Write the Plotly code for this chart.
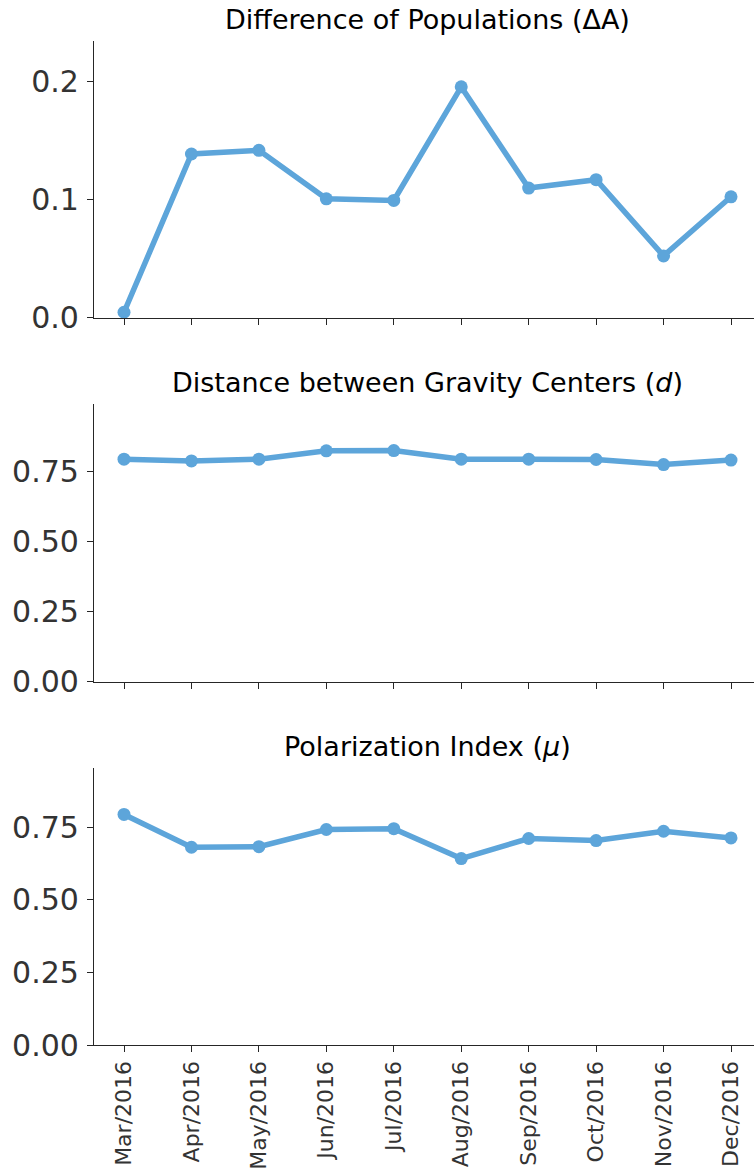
import plotly.graph_objects as go

months = ["Mar/2016", "Apr/2016", "May/2016", "Jun/2016", "Jul/2016",
          "Aug/2016", "Sep/2016", "Oct/2016", "Nov/2016", "Dec/2016"]
delta_a = [0.0046, 0.1388, 0.1419, 0.1008, 0.0994, 0.1957, 0.1099, 0.1170, 0.0524, 0.1025]
dist_d = [0.795, 0.789, 0.795, 0.825, 0.826, 0.795, 0.795, 0.794, 0.776, 0.792]
polar_mu = [0.794, 0.681, 0.683, 0.742, 0.745, 0.642, 0.711, 0.704, 0.736, 0.713]

titles = ["Difference of Populations (ΔA)",
          "Distance between Gravity Centers (<i>d</i>)",
          "Polarization Index (<i>μ</i>)"]
series = [delta_a, dist_d, polar_mu]
yticks = [[0.0, 0.1, 0.2], [0.0, 0.25, 0.5, 0.75], [0.0, 0.25, 0.5, 0.75]]
ytext = [["0.0", "0.1", "0.2"], ["0.00", "0.25", "0.50", "0.75"], ["0.00", "0.25", "0.50", "0.75"]]

H = 1171.0
# pixel extents of each plot area (top, bottom)
areas = [(40.7, 317.7), (404.3, 681.7), (768.3, 1045.0)]

color = "#5DA5DA"
axis_col = "#262626"
fig = go.Figure()
x_idx = list(range(len(months)))

for i, (vals, (top, bot)) in enumerate(zip(series, areas)):
    n = "" if i == 0 else str(i + 1)
    fig.add_trace(go.Scatter(
        x=x_idx, y=vals, mode="lines+markers",
        line=dict(color=color, width=5.5),
        marker=dict(color=color, size=13),
        xaxis="x" + n, yaxis="y" + n, showlegend=False, cliponaxis=False))
    dom = [1 - bot / H, 1 - top / H]
    ymax = max(vals) * 1.2
    fig.layout["yaxis" + n] = dict(
        domain=dom, range=[0, ymax], anchor="x" + n,
        tickvals=yticks[i], ticktext=ytext[i],
        showline=True, linecolor=axis_col, linewidth=1.3,
        ticks="outside", ticklen=6, tickwidth=1.3, tickcolor=axis_col,
        showgrid=False, zeroline=False,
        tickfont=dict(family="DejaVu Sans", size=30, color="#333333"),
        ticklabelstandoff=2, automargin=False, fixedrange=True)
    fig.layout["xaxis" + n] = dict(
        domain=[0, 1], range=[-0.445, 9.341], anchor="y" + n,
        tickvals=x_idx, ticktext=months if i == 2 else [""] * len(months),
        showticklabels=(i == 2), tickangle=-90,
        showline=True, linecolor=axis_col, linewidth=1.3,
        ticks="outside", ticklen=6, tickwidth=1.3, tickcolor=axis_col,
        showgrid=False, zeroline=False,
        tickfont=dict(family="DejaVu Sans", size=22, color="#333333"),
        automargin=False, fixedrange=True)
    fig.add_annotation(
        text=titles[i], x=(427 - 94) / 660.0, xref="paper", xanchor="center",
        y=dom[1], yref="paper", yanchor="bottom", yshift=4,
        showarrow=False,
        font=dict(family="DejaVu Sans", size=27, color="#000000"))

fig.update_layout(
    width=754, height=1171,
    margin=dict(l=94, r=0, t=0, b=0),
    paper_bgcolor="white", plot_bgcolor="white")

fig.write_html("out.html")
